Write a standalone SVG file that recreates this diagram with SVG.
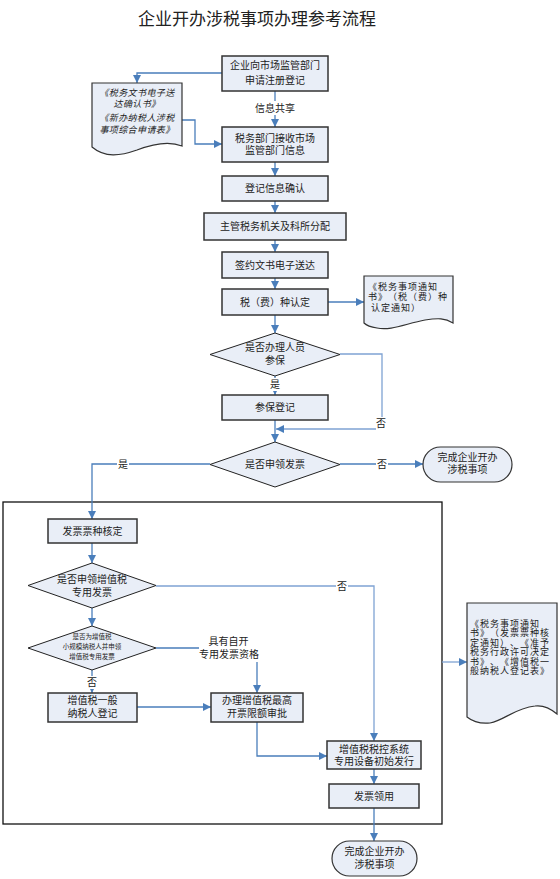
<svg xmlns="http://www.w3.org/2000/svg" width="560" height="879" viewBox="0 0 560 879">
<defs>
<marker id="ah" markerWidth="8" markerHeight="8" viewBox="0 0 10 10" refX="10" refY="5" orient="auto" markerUnits="userSpaceOnUse">
<path d="M0,0 L10,5 L0,10 Z" fill="#4A7EBB"/>
</marker>
<style>
.box{fill:#E9EEF7;stroke:#333;stroke-width:1.5}
.dia{fill:#E9EEF7;stroke:#222;stroke-width:1}
.doc{fill:#E9EEF7;stroke:#333;stroke-width:1.2}
.end{fill:#E9EEF7;stroke:#333;stroke-width:1.2}
.ca{fill:none;stroke:#4A7EBB;stroke-width:1.3;marker-end:url(#ah)}
.cl{stroke:#7FA3D3}
.t{font-family:"Noto Sans CJK SC","Noto Sans CJK JP",sans-serif;font-size:10px;fill:#222;text-anchor:middle;text-spacing-trim:space-all}
.tl{font-family:"Noto Sans CJK SC","Noto Sans CJK JP",sans-serif;font-size:10px;fill:#222;text-anchor:start;text-spacing-trim:space-all}
.s9{font-size:9px;letter-spacing:1px}
.it{font-size:9px;letter-spacing:0.4px;font-style:italic}
.bg{fill:#fff}
</style>
</defs>
<rect width="560" height="879" fill="#fff"/>
<text x="257" y="25" class="t" style="font-size:17px">企业开办涉税事项办理参考流程</text>

<rect id="outer" x="3" y="502" width="439" height="322" fill="none" stroke="#111" stroke-width="1.3"/>

<g id="connectors">
<path class="ca" d="M222,73 H137 V83"/>
<path class="ca" d="M275,91 V127"/>
<path class="ca" d="M182,120 H195 V144 H222"/>
<path class="ca" d="M275,162 V176"/>
<path class="ca" d="M275,201 V213"/>
<path class="ca" d="M275,240 V252"/>
<path class="ca" d="M275,278 V289"/>
<path class="ca" d="M328,302 H364"/>
<path class="ca" d="M275,315 V333"/>
<path class="ca" d="M275,376 V395"/>
<path class="ca cl" d="M340,354 H382 V429 H276"/>
<path class="ca" d="M275,420 V442"/>
<path class="ca" d="M340,464 H423"/>
<path class="ca" d="M210,464 H92 V519"/>
<path class="ca" d="M92,543 V563"/>
<path class="ca" d="M92,608 V626"/>
<path class="ca cl" d="M156,586 H374 V741"/>
<path class="ca" d="M156,648 H257 V693"/>
<path class="ca" d="M92,670 V693"/>
<path class="ca" d="M137,707 H211"/>
<path class="ca" d="M257,722 V756 H327"/>
<path class="ca" d="M374,769 V784"/>
<path class="ca" d="M374,808 V841"/>
<path class="ca cl" d="M442,662 H467"/>
<rect class="bg" x="253" y="101" width="44" height="14"/>
<text x="275" y="111.7" class="t">信息共享</text>
<rect class="bg" x="269" y="378" width="12" height="13"/>
<text x="275" y="387.7" class="t">是</text>
<rect class="bg" x="376" y="417" width="12" height="13"/>
<text x="381" y="426.7" class="t">否</text>
<rect class="bg" x="376" y="458" width="12" height="13"/>
<text x="382" y="467.7" class="t">否</text>
<rect class="bg" x="117" y="458" width="12" height="13"/>
<text x="123" y="467.7" class="t">是</text>
<rect class="bg" x="336" y="580" width="12" height="13"/>
<text x="342" y="589.7" class="t">否</text>
<rect class="bg" x="86" y="676" width="12" height="13"/>
<text x="92" y="685.7" class="t">否</text>
<rect class="bg" x="199" y="634" width="60" height="28"/>
<text class="t"><tspan x="228.5" y="644.7">具有自开</tspan><tspan x="229" y="657.7">专用发票资格</tspan></text>
</g>

<g id="n1">
<rect class="box" x="222" y="56" width="106" height="35"/>
<text class="t"><tspan x="275" y="69">企业向市场监管部门</tspan><tspan x="275" y="84">申请注册登记</tspan></text>
</g>
<g id="doc1">
<path class="doc" d="M92,83 H182 V146 C170,141 155,143 137,150 C120,156 105,158 92,147 Z"/>
<text class="t it"><tspan x="137" y="96.4">《税务文书电子送</tspan><tspan x="137" y="106.8">达确认书》</tspan><tspan x="137" y="121.4">《新办纳税人涉税</tspan><tspan x="137" y="132.6">事项综合申请表》</tspan></text>
</g>
<g id="n2">
<rect class="box" x="222" y="127" width="106" height="35"/>
<text class="t"><tspan x="275" y="141.7">税务部门接收市场</tspan><tspan x="275" y="153.7">监管部门信息</tspan></text>
</g>
<g id="n3">
<rect class="box" x="222" y="176" width="106" height="25"/>
<text x="275" y="192" class="t">登记信息确认</text>
</g>
<g id="n4">
<rect class="box" x="204" y="213" width="142" height="27"/>
<text x="275" y="230" class="t">主管税务机关及科所分配</text>
</g>
<g id="n5">
<rect class="box" x="222" y="252" width="106" height="26"/>
<text x="275" y="268.7" class="t">签约文书电子送达</text>
</g>
<g id="n6">
<rect class="box" x="222" y="289" width="106" height="26"/>
<text x="275" y="305.7" class="t">税（费）种认定</text>
</g>
<g id="doc2">
<path class="doc" d="M364,276 H453 V323 C445,318 438,318 425,320 C405,324 390,331 377,328 C370,327 366,325 364,323 Z"/>
<text class="tl s9"><tspan x="368" y="289.7">《税务事项通知</tspan><tspan x="368" y="300.4">书》（税（费）种</tspan><tspan x="371" y="310.9">认定通知）</tspan></text>
</g>
<g id="d1">
<polygon class="dia" points="275,333 340,354.5 275,376 210,354.5"/>
<text class="t"><tspan x="275" y="350.7">是否办理人员</tspan><tspan x="275" y="363.7">参保</tspan></text>
</g>
<g id="n7">
<rect class="box" x="222" y="395" width="106" height="25"/>
<text x="275" y="411" class="t">参保登记</text>
</g>
<g id="d2">
<polygon class="dia" points="275,442 340,464.5 275,487 210,464.5"/>
<text x="275" y="467.7" class="t">是否申领发票</text>
</g>
<g id="end1">
<rect class="end" x="423" y="447" width="89" height="35" rx="17.5"/>
<text class="t"><tspan x="467.5" y="460.7">完成企业开办</tspan><tspan x="467.5" y="472.7">涉税事项</tspan></text>
</g>
<g id="n8">
<rect class="box" x="48" y="519" width="89" height="24"/>
<text x="92.5" y="534.7" class="t">发票票种核定</text>
</g>
<g id="d3">
<polygon class="dia" points="92,563 156,585.5 92,608 28,585.5"/>
<text class="t"><tspan x="92" y="582.7">是否申领增值税</tspan><tspan x="92" y="595.7">专用发票</tspan></text>
</g>
<g id="d4">
<polygon class="dia" points="92,626 156,648 92,670 28,648"/>
<text class="t" style="font-size:6.5px"><tspan x="92" y="639.4">是否为增值税</tspan><tspan x="92" y="649.4">小规模纳税人并申领</tspan><tspan x="92" y="659.4">增值税专用发票</tspan></text>
</g>
<g id="n9">
<rect class="box" x="48" y="693" width="89" height="29"/>
<text class="t"><tspan x="92.5" y="703.7">增值税一般</tspan><tspan x="92.5" y="716.7">纳税人登记</tspan></text>
</g>
<g id="n10">
<rect class="box" x="211" y="693" width="92" height="29"/>
<text class="t"><tspan x="257" y="703.7">办理增值税最高</tspan><tspan x="257" y="716.7">开票限额审批</tspan></text>
</g>
<g id="n11">
<rect class="box" x="327" y="741" width="94" height="28"/>
<text class="t"><tspan x="374" y="752.7">增值税税控系统</tspan><tspan x="374" y="764.7">专用设备初始发行</tspan></text>
</g>
<g id="n12">
<rect class="box" x="329" y="784" width="90" height="24"/>
<text x="374" y="799.7" class="t">发票领用</text>
</g>
<g id="end2">
<rect class="end" x="332" y="841" width="85" height="35" rx="17.5"/>
<text class="t"><tspan x="374.5" y="855">完成企业开办</tspan><tspan x="374.5" y="867.5">涉税事项</tspan></text>
</g>
<g id="doc3">
<path class="doc" d="M467,603 H557 V714 C550,708 543,705 535,706 C515,708 505,720 490,723 C480,724 472,721 467,717 Z"/>
<text class="tl s9"><tspan x="470" y="626.8">《税务事项通知</tspan><tspan x="470" y="636.3">书》（发票票种核</tspan><tspan x="470" y="645.8">定通知）、《准予</tspan><tspan x="470" y="655.3">税务行政许可决定</tspan><tspan x="470" y="664.8">书》、《增值税一</tspan><tspan x="470" y="674.3">般纳税人登记表》</tspan></text>
</g>
</svg>
